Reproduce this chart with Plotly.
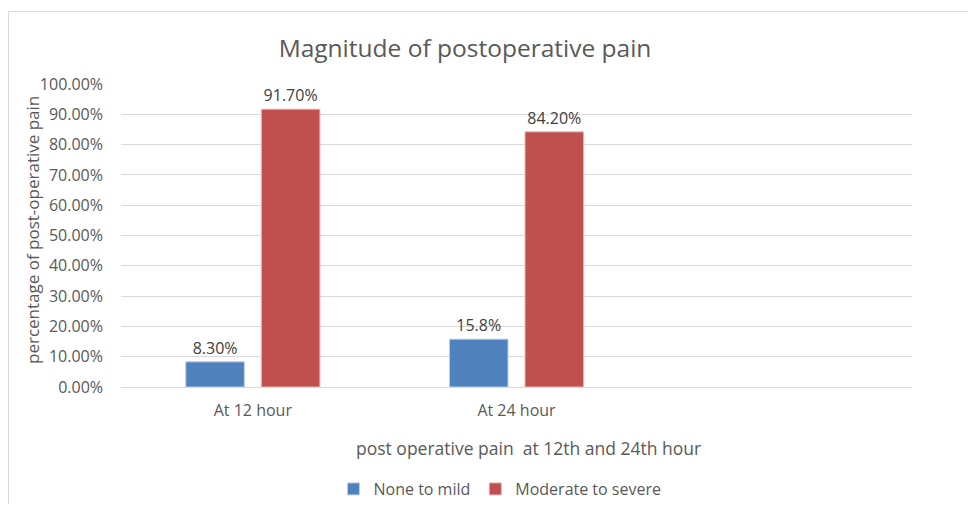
import plotly.graph_objects as go

categories = ["At 12 hour", "At 24 hour", " "]
none_to_mild = [0.083, 0.158]
moderate_to_severe = [0.917, 0.842]
none_labels = ["8.30%", "15.8%"]
mod_labels = ["91.70%", "84.20%"]
y_ticks = [0, 0.1, 0.2, 0.3, 0.4, 0.5, 0.6, 0.7, 0.8, 0.9, 1.0]
y_tick_labels = ["0.00%", "10.00%", "20.00%", "30.00%", "40.00%", "50.00%",
                 "60.00%", "70.00%", "80.00%", "90.00%", "100.00%"]
x_title = "post operative pain \u00a0at 12th and 24th hour"
y_title = "percentage of post-operative pain"

OFF = 8  # page body margin
W, H = 960, 496
L, R, T, B = 113, 56, 76, 117
FONT = "Open Sans"
TXT = "#595959"

fig = go.Figure()
fig.add_trace(go.Bar(
    name="None to mild", x=categories[:2], y=none_to_mild,
    text=none_labels, textposition="outside", cliponaxis=False,
    textfont=dict(size=16, color="#404040", family=FONT),
    marker=dict(color="#4F81BD", line=dict(color="#BCD0EA", width=1)),
))
fig.add_trace(go.Bar(
    name="Moderate to severe", x=categories[:2], y=moderate_to_severe,
    text=mod_labels, textposition="outside", cliponaxis=False,
    textfont=dict(size=16, color="#404040", family=FONT),
    marker=dict(color="#C0504D", line=dict(color="#E3B4B3", width=1)),
))

pw, ph = W - L - R, H - T - B
def px(x):
    return (x - OFF - L) / pw
def py(y):
    return (H - B - (y - OFF)) / ph

fig.update_layout(
    width=W, height=H,
    margin=dict(l=L, r=R, t=T, b=B, autoexpand=False),
    paper_bgcolor="white", plot_bgcolor="white",
    font=dict(family=FONT, color=TXT),
    barmode="group", bargap=0.427, bargroupgap=0.225,
    title=dict(text="Magnitude of postoperative pain", x=(465 - OFF) / W, xanchor="center",
               y=1 - (48 - OFF) / H, yanchor="middle",
               font=dict(size=24.5, color=TXT, family=FONT)),
    xaxis=dict(type="category", categoryorder="array", categoryarray=categories,
               range=[-0.5, 2.5], showgrid=False, showline=False, ticks="",
               tickfont=dict(size=16, color=TXT), ticklabelstandoff=12),
    yaxis=dict(range=[0, 1], tickvals=y_ticks, ticktext=y_tick_labels,
               showgrid=True, gridcolor="#D9D9D9", gridwidth=1,
               zeroline=True, zerolinecolor="#D9D9D9", zerolinewidth=1,
               tickfont=dict(size=16, color=TXT), ticks="", ticklabelstandoff=17),
    legend=dict(orientation="h", x=px(500), xanchor="center", y=py(489), yanchor="middle",
                font=dict(size=16, color=TXT), traceorder="normal"),
    showlegend=True,
    annotations=[
        dict(text=x_title, xref="paper", yref="paper", x=px(528), y=py(448),
             xanchor="center", yanchor="middle", showarrow=False,
             font=dict(size=17.5, color=TXT, family=FONT)),
        dict(text=y_title, xref="paper", yref="paper", x=px(33), y=py(230),
             xanchor="center", yanchor="middle", showarrow=False, textangle=-90,
             font=dict(size=17, color=TXT, family=FONT)),
    ],
    shapes=[dict(type="rect", xref="paper", yref="paper",
                 x0=px(8.5), x1=px(1000), y0=py(540), y1=py(11.5),
                 line=dict(color="#D9D9D9", width=1), fillcolor="rgba(0,0,0,0)", layer="below")],
)

fig.write_html("out.html")
